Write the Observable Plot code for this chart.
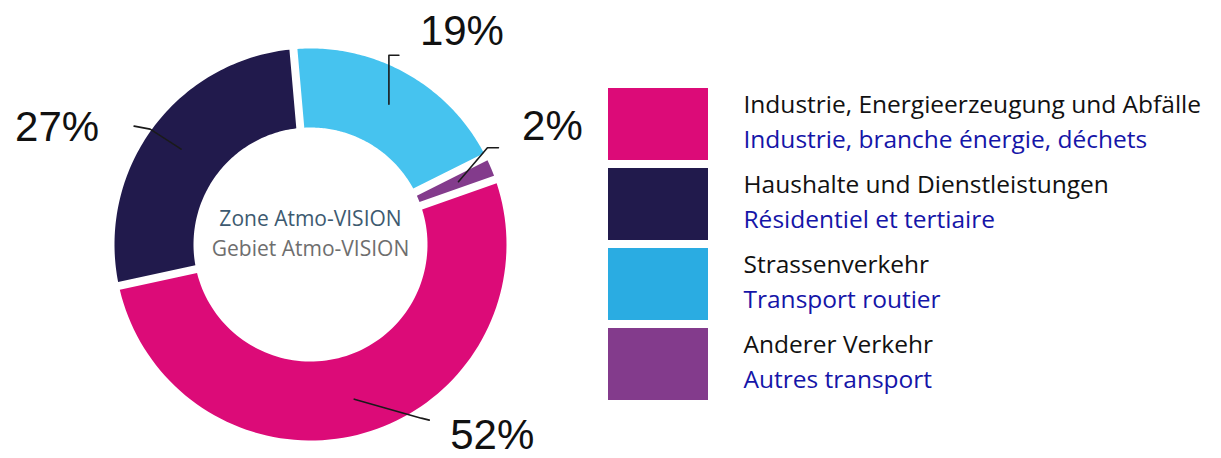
<!DOCTYPE html>
<html><head><meta charset="utf-8">
<script src="https://cdn.jsdelivr.net/npm/d3@7"></script>
<script src="https://cdn.jsdelivr.net/npm/@observablehq/plot@0.6"></script>
<style>
body{margin:0;background:#fff;}
#wrap{position:relative;width:1221px;height:458px;overflow:hidden;background:#fff;}
#chart{position:absolute;left:0;top:0;}
#legend{position:absolute;left:608px;top:0;}
svg{overflow:visible;}
</style></head><body>
<div id="wrap"><div id="chart"></div><div id="legend"></div></div>
<script>
// ---- data (legend order) ----
const sectorsDE = ["Industrie, Energieerzeugung und Abfälle", "Haushalte und Dienstleistungen", "Strassenverkehr", "Anderer Verkehr"];
const sectorsFR = ["Industrie, branche énergie, déchets", "Résidentiel et tertiaire", "Transport routier", "Autres transport"];
const shares = [52, 27, 19, 2];
const pctLabels = ["52%", "27%", "19%", "2%"];
const donutColors = ["#dc0b78", "#211a4c", "#46c3ef", "#833b8c"];
const legendColors = ["#dc0b78", "#211a4c", "#2aace2", "#833b8c"];
const centerLines = ["Zone Atmo-VISION", "Gebiet Atmo-VISION"];
const centerColors = ["#3d5a70", "#6e6e6e"];
// clockwise order from top (indices into arrays above)
const clockwiseOrder = [2, 3, 0, 1];

// ---- layout ----
const W = 600, H = 458;
const R = 196, cx = 310, cy = 244;   // outer radius & centre (px)
const innerRatio = 117 / 196;
const gapPx = 8;
const startDeg = -5;
const leaderStartR = 0.82;
// px offsets from leader start: [elbow, tail end, label baseline-centre]
const leaderLayout = {
  0: {elbow: [67, 19], tail: [75, 21], label: [138, 50]},
  1: {elbow: [-31, -20], tail: [-47, -23], label: [-124, -8]},
  2: {elbow: [0, -49], tail: [10, -49], label: [73, -59]},
  3: {elbow: [29, -34], tail: [40, -34], label: [94, -42]}
};
const centerOffsets = [-19, 11]; // baseline px relative to centre

// ---- geometry ----
const total = d3.sum(shares);
const slices = [];
let acc = startDeg * Math.PI / 180;
for (const i of clockwiseOrder) {
  const span = shares[i] / total * 2 * Math.PI;
  slices.push({i, a0: acc, a1: acc + span});
  acc += span;
}
const polyPts = [];
for (const s of slices) {
  const hOut = Math.asin(gapPx / 2 / R);
  const hIn = Math.asin(gapPx / 2 / (R * innerRatio));
  const n = 90;
  for (let k = 0; k <= n; k++) {
    const a = s.a0 + hOut + (s.a1 - s.a0 - 2 * hOut) * k / n;
    polyPts.push({key: sectorsDE[s.i], x: Math.sin(a), y: Math.cos(a)});
  }
  for (let k = n; k >= 0; k--) {
    const a = s.a0 + hIn + (s.a1 - s.a0 - 2 * hIn) * k / n;
    polyPts.push({key: sectorsDE[s.i], x: innerRatio * Math.sin(a), y: innerRatio * Math.cos(a)});
  }
}
const leaderPts = [], labelPts = [];
for (const s of slices) {
  const m = (s.a0 + s.a1) / 2;
  const sx = leaderStartR * Math.sin(m), sy = leaderStartR * Math.cos(m);
  const L = leaderLayout[s.i];
  const P = ([dx, dy]) => ({x: sx + dx / R, y: sy - dy / R});
  leaderPts.push({key: s.i, x: sx, y: sy}, {key: s.i, ...P(L.elbow)}, {key: s.i, ...P(L.tail)});
  labelPts.push({text: pctLabels[s.i], ...P(L.label)});
}

const chart = Plot.plot({
  width: W, height: H,
  marginTop: 0, marginRight: 0, marginBottom: 0, marginLeft: 0,
  x: {domain: [-cx / R, (W - cx) / R], axis: null},
  y: {domain: [-(H - cy) / R, cy / R], axis: null},
  color: {domain: sectorsDE, range: donutColors},
  style: {background: "transparent", overflow: "visible"},
  marks: [
    Plot.line(polyPts, {x: "x", y: "y", z: "key", fill: "key", stroke: "none", curve: "linear"}),
    Plot.line(leaderPts, {x: "x", y: "y", z: "key", stroke: "#1a1a1a", strokeWidth: 1.6}),
    Plot.text(labelPts, {x: "x", y: "y", text: "text", fontSize: 42, fontFamily: "Liberation Sans", fill: "#111", lineAnchor: "bottom", textAnchor: "middle"}),
    Plot.text(centerLines, {x: () => 0, y: (d, i) => -centerOffsets[i] / R, text: d => d, fill: (d, i) => centerColors[i], fontSize: 21, fontFamily: "Open Sans", lineAnchor: "bottom", textAnchor: "middle"})
  ]
});
document.getElementById("chart").appendChild(chart);

// ---- legend (as a second Plot) ----
const LW = 613;
const rows = sectorsDE.map((d, i) => ({de: d, fr: sectorsFR[i], color: legendColors[i]}));
const legend = Plot.plot({
  width: LW, height: H,
  marginTop: 0, marginRight: 0, marginBottom: 0, marginLeft: 0,
  x: {domain: [0, LW], range: [0, LW], axis: null},
  y: {type: "band", domain: sectorsDE, range: [88, 400], paddingInner: 0.1, paddingOuter: 0, axis: null},
  style: {background: "transparent", overflow: "visible"},
  marks: [
    Plot.barX(rows, {x1: 0, x2: 100, y: "de", fill: "color"}),
    Plot.text(rows, {x: 135, y: "de", dy: -12, text: "de", fill: "#111", fontSize: 24.5, fontFamily: "Open Sans", textAnchor: "start", lineAnchor: "bottom"}),
    Plot.text(rows, {x: 135, y: "de", dy: 23, text: "fr", fill: "#1515a8", fontSize: 24.5, fontFamily: "Open Sans", textAnchor: "start", lineAnchor: "bottom"})
  ]
});
document.getElementById("legend").appendChild(legend);
</script>
</body></html>
